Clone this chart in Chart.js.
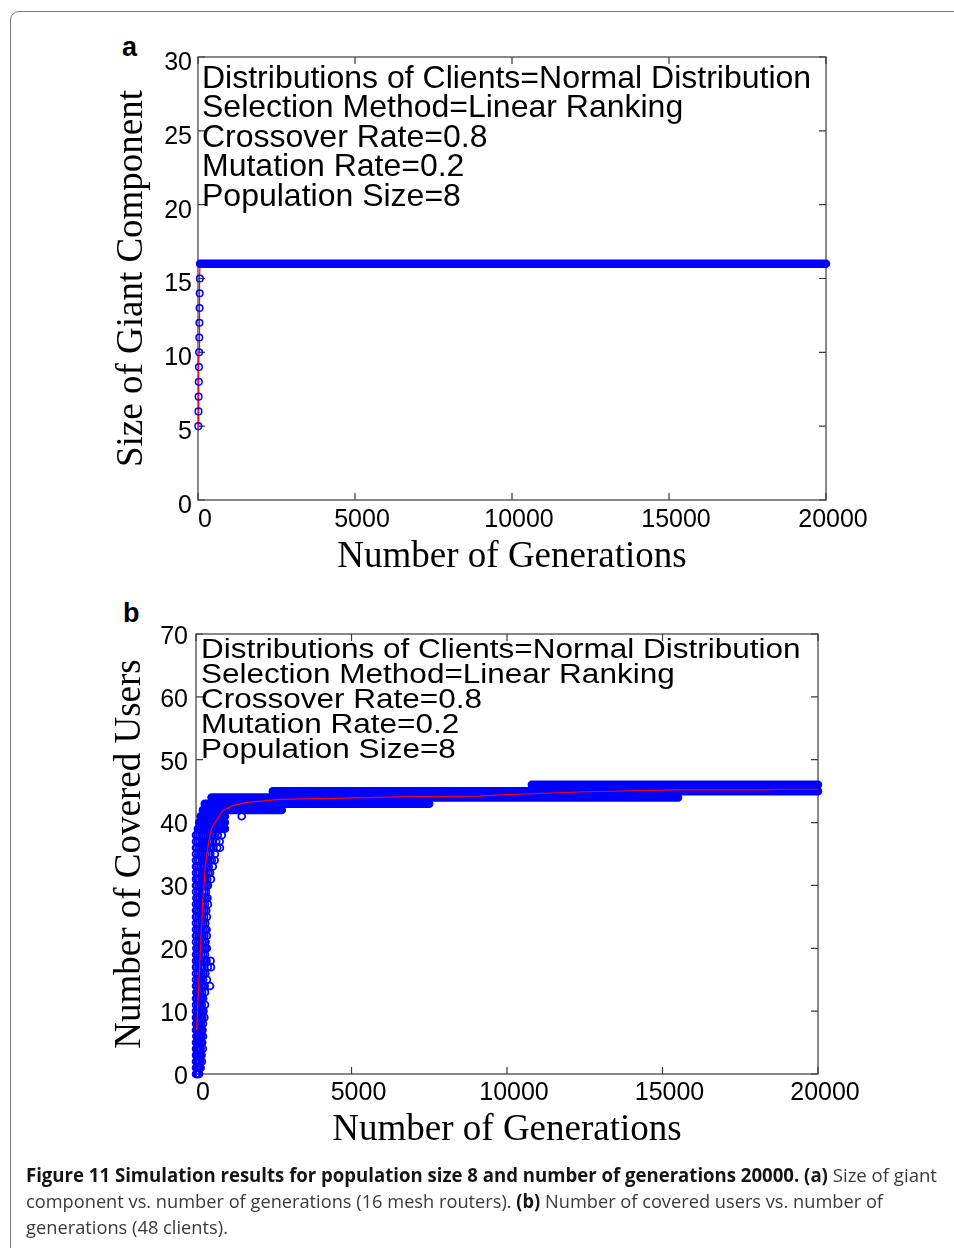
<!DOCTYPE html>
<html>
<head>
<meta charset="utf-8">
<script src="https://cdn.jsdelivr.net/npm/chart.js@4/dist/chart.umd.min.js"></script>
<style>
  html, body { margin: 0; padding: 0; background: #fff; }
  body { width: 954px; height: 1248px; position: relative; overflow: hidden; }
  #frame { position: absolute; left: 10px; top: 11px; width: 990px; height: 1300px;
           border: 1.5px solid #7d7d7d; border-radius: 9px; box-sizing: border-box; }
  canvas { position: absolute; left: 0; }
  #cA { top: 0; }
  #cB { top: 590px; }
  .panel { position: absolute; font: bold 27px "Liberation Sans", Arial, sans-serif;
           line-height: 26px; color: #000; }
  #caption { position: absolute; left: 26px; top: 1162px; font: 19px "Open Sans", sans-serif;
             color: #3a3a3a; line-height: 26px; }
  #caption div { white-space: nowrap; transform-origin: 0 0; width: max-content; }
  #caption b { color: #141414; }
</style>
</head>
<body>
<div id="frame"></div>
<div class="panel" style="left:122px; top:34px;">a</div>
<div class="panel" style="left:123px; top:600px;">b</div>
<canvas id="cA" width="954" height="600"></canvas>
<canvas id="cB" width="954" height="580"></canvas>
<div id="caption">
  <div data-w="911"><b>Figure 11 Simulation results for population size 8 and number of generations 20000. (a)</b> Size of giant</div>
  <div data-w="857">component vs. number of generations (16 mesh routers). <b>(b)</b> Number of covered users vs. number of</div>
  <div data-w="202">generations (48 clients).</div>
</div>
<script>
// ---------- panel (a): size of giant component ----------
const genA   = [10, 15, 20, 25, 30, 35, 40, 45, 50, 55, 60];
const giantA = [5, 6, 7, 8, 9, 10, 11, 12, 13, 14, 15];
// [value, first generation, last generation] of the constant run
const plateauA = [[16, 65, 20000]];
const meanGenA = [10, 15, 20, 25, 30, 35, 40, 45, 50, 55, 60, 65, 20000];
const meanA    = [5, 6, 7, 8, 9, 10, 11, 12, 13, 14, 15, 16, 16];
const yTicksA  = [0, 5, 10, 15, 20, 25, 30];
const xTicks   = [0, 5000, 10000, 15000, 20000];
const settings = [
  'Distributions of Clients=Normal Distribution',
  'Selection Method=Linear Ranking',
  'Crossover Rate=0.8',
  'Mutation Rate=0.2',
  'Population Size=8'
];

// ---------- panel (b): number of covered users ----------
// individual population members in the early generations: [generation, users]
const cloudB = [
  [0,0],[20,0],[40,0],[70,0],[100,0],
  [0,1],[10,1],[45,1],[80,1],[120,1],[150,1],
  [0,2],[30,2],[60,2],[95,2],[130,2],[190,2],
  [0,3],[20,3],[60,3],[100,3],[140,3],[180,3],
  [0,4],[35,4],[70,4],[110,4],[150,4],[220,4],
  [0,5],[30,5],[70,5],[110,5],[160,5],[200,5],
  [10,6],[50,6],[90,6],[130,6],[170,6],[225,6],
  [0,7],[40,7],[85,7],[130,7],[170,7],[210,7],
  [0,8],[40,8],[80,8],[120,8],[160,8],[225,8],
  [0,9],[20,9],[70,9],[120,9],[160,9],[200,9],[270,9],
  [0,10],[50,10],[100,10],[150,10],[200,10],[240,10],
  [0,11],[50,11],[100,11],[140,11],[190,11],[290,11],
  [0,12],[30,12],[80,12],[130,12],[180,12],[230,12],
  [10,13],[50,13],[90,13],[140,13],[200,13],[290,13],
  [0,14],[40,14],[100,14],[160,14],[220,14],[280,14],[450,14],
  [0,15],[60,15],[110,15],[170,15],[230,15],[350,15],
  [0,16],[60,16],[120,16],[180,16],[240,16],[300,16],
  [0,17],[20,17],[80,17],[140,17],[200,17],[260,17],[380,17],[480,17],
  [0,18],[50,18],[100,18],[160,18],[220,18],[280,18],[340,18],[470,18],
  [0,19],[50,19],[110,19],[170,19],[230,19],[290,19],
  [10,20],[70,20],[130,20],[190,20],[250,20],[310,20],[350,20],
  [0,21],[70,21],[130,21],[190,21],[250,21],[310,21],
  [0,22],[30,22],[90,22],[150,22],[210,22],[270,22],[350,22],
  [0,23],[50,23],[110,23],[170,23],[230,23],[290,23],[340,23],
  [0,24],[60,24],[120,24],[180,24],[240,24],[300,24],
  [0,25],[20,25],[80,25],[140,25],[200,25],[260,25],[350,25],
  [0,26],[40,26],[90,26],[150,26],[210,26],[270,26],[330,26],
  [0,27],[50,27],[110,27],[170,27],[230,27],[290,27],[385,27],
  [10,28],[70,28],[130,28],[190,28],[250,28],[310,28],[370,28],
  [0,29],[70,29],[130,29],[200,29],[260,29],[320,29],
  [0,30],[30,30],[90,30],[150,30],[220,30],[280,30],[340,30],[385,30],
  [0,31],[50,31],[110,31],[180,31],[240,31],[300,31],[360,31],[480,31],
  [0,32],[60,32],[120,32],[190,32],[260,32],[320,32],[390,32],[450,32],
  [0,33],[20,33],[80,33],[150,33],[220,33],[280,33],[350,33],[410,33],[540,33],
  [0,34],[60,34],[120,34],[190,34],[250,34],[320,34],[380,34],[450,34],[510,34],[600,34],
  [0,35],[70,35],[140,35],[200,35],[270,35],[330,35],[400,35],[460,35],[610,35],
  [0,36],[30,36],[100,36],[160,36],[230,36],[290,36],[360,36],[420,36],[490,36],[550,36],[680,36],[770,36],
  [0,37],[60,37],[130,37],[200,37],[260,37],[330,37],[390,37],[460,37],[520,37],[650,37],[760,37],
  [0,38],[50,38],[120,38],[180,38],[250,38],[310,38],[380,38],[440,38],[510,38],[570,38],[700,38],[830,38],
  [1470,41]
];
// runs of generations in which some member holds the value: [value, first, last]
const bandsB = [
  [46, 10800, 20000],
  [45, 2470, 20000],
  [44, 500, 15500],
  [43, 280, 7500],
  [42, 220, 2760],
  [41, 150, 930],
  [40, 100, 930],
  [39, 60, 930]
];
const meanGenB = [20, 60, 130, 215, 290, 400, 500, 665, 880, 1200, 1630, 2700, 4840, 6440, 9120, 9760, 12540, 15430, 18320, 18840, 20000];
const meanB    = [7, 11.3, 18.6, 27.2, 32.5, 36.7, 39.1, 40.4, 42, 42.7, 43.2, 43.7, 43.9, 44.1, 44.2, 44.4, 44.9, 45.2, 45.2, 45.3, 45.3];
const yTicksB  = [0, 10, 20, 30, 40, 50, 60, 70];

const BLUE = '#0000ff';
const RED  = '#ff0000';
const SANS = '"Liberation Sans", Arial, Helvetica, sans-serif';
const SERIF = '"Liberation Serif", "Times New Roman", serif';

// box around the axes with inward tick marks on all four sides
const boxTicks = {
  id: 'boxTicks',
  beforeDatasetsDraw(chart) {
    const { ctx, chartArea: a, scales: { x, y } } = chart;
    const L = 7;
    ctx.save();
    ctx.strokeStyle = '#3a3a3a';
    ctx.lineWidth = 1.2;
    ctx.strokeRect(a.left, a.top, a.right - a.left, a.bottom - a.top);
    ctx.beginPath();
    x.ticks.forEach(t => {
      const px = x.getPixelForValue(t.value);
      ctx.moveTo(px, a.bottom); ctx.lineTo(px, a.bottom - L);
      ctx.moveTo(px, a.top);    ctx.lineTo(px, a.top + L);
    });
    y.ticks.forEach(t => {
      const py = y.getPixelForValue(t.value);
      ctx.moveTo(a.left, py);  ctx.lineTo(a.left + L, py);
      ctx.moveTo(a.right, py); ctx.lineTo(a.right - L, py);
    });
    ctx.stroke();
    ctx.restore();
  }
};

// parameter block printed inside the axes
function settingsText(cfg) {
  return {
    id: 'settingsText',
    afterDatasetsDraw(chart) {
      const { ctx, chartArea: a } = chart;
      ctx.save();
      ctx.fillStyle = '#000';
      ctx.font = cfg.size + 'px ' + SANS;
      ctx.textBaseline = 'alphabetic';
      ctx.textAlign = 'left';
      settings.forEach((s, i) => {
        ctx.save();
        ctx.translate(a.left + cfg.dx, a.top + cfg.dy + i * cfg.step);
        ctx.scale(1, cfg.sy);
        ctx.fillText(s, 0, 0);
        ctx.restore();
      });
      ctx.restore();
    }
  };
}

function pts(xs, ys) { return xs.map((v, i) => ({ x: v, y: ys[i] })); }

function bandDataset(run, width) {
  return {
    data: [{ x: run[1], y: run[0] }, { x: run[2], y: run[0] }],
    showLine: true, borderColor: BLUE, borderWidth: width, borderCapStyle: 'round',
    pointRadius: 0, clip: false, order: 2
  };
}

function axes(cfg) {
  return {
    x: {
      type: 'linear', min: 0, max: 20000,
      afterBuildTicks: s => { s.ticks = xTicks.map(v => ({ value: v })); },
      afterFit: s => { s.height = 80; },
      grid: { display: false, drawTicks: false },
      border: { display: false },
      ticks: { color: '#000', font: { size: 25, family: SANS }, padding: cfg.xPad,
               labelOffset: 7, maxRotation: 0, autoSkip: false, callback: v => String(v) },
      title: { display: true, text: 'Number of Generations', color: '#000',
               font: { size: 37, family: SERIF, lineHeight: 1.2 },
               padding: { top: 0, bottom: cfg.xTitlePad } }
    },
    y: {
      type: 'linear', min: 0, max: cfg.yMax,
      afterBuildTicks: s => { s.ticks = cfg.yTicks.map(v => ({ value: v })); },
      afterFit: s => { s.width = 88; },
      grid: { display: false, drawTicks: false },
      border: { display: false },
      ticks: { color: '#000', font: { size: 25, family: SANS }, padding: cfg.yPad,
               labelOffset: cfg.yLabelOffset, autoSkip: false, callback: v => String(v) },
      title: { display: true, text: cfg.yTitle, color: '#000',
               font: { size: 37, family: SERIF, lineHeight: 1.2 },
               padding: { top: 0, bottom: 0 } }
    }
  };
}

const common = {
  responsive: false, animation: false, devicePixelRatio: 1, events: [],
  plugins: { legend: { display: false }, tooltip: { enabled: false } }
};

// ----- chart (a) -----
new Chart(document.getElementById('cA'), {
  type: 'scatter',
  data: {
    datasets: [
      { data: pts(genA, giantA), showLine: false, pointStyle: 'circle', pointRadius: 3.3,
        pointBorderWidth: 1.5, pointBorderColor: BLUE, pointBackgroundColor: 'rgba(0,0,0,0)',
        clip: false, order: 1 },
      ...plateauA.map(r => bandDataset(r, 8.5)),
      { data: pts(meanGenA, meanA), showLine: true, borderColor: RED, borderWidth: 1.2,
        pointRadius: 0, clip: false, order: 3 }
    ]
  },
  options: Object.assign({}, common, {
    layout: { padding: { left: 110, right: 128, top: 57, bottom: 20 } },
    scales: axes({ yMax: 30, yTicks: yTicksA, yTitle: 'Size of Giant Component',
                   xPad: 5, xTitlePad: 1, yPad: 6, yLabelOffset: 6 })
  }),
  plugins: [boxTicks, settingsText({ size: 32, dx: 4, dy: 30.5, step: 29.5, sy: 1 })]
});

// ----- chart (b) -----
new Chart(document.getElementById('cB'), {
  type: 'scatter',
  data: {
    datasets: [
      { data: pts(meanGenB, meanB), showLine: true, borderColor: RED, borderWidth: 1.2,
        pointRadius: 0, clip: false, order: 0 },
      { data: cloudB.map(p => ({ x: p[0], y: p[1] })), showLine: false, pointStyle: 'circle',
        pointRadius: 3.4, pointBorderWidth: 1.8, pointBorderColor: BLUE,
        pointBackgroundColor: 'rgba(0,0,0,0)', clip: false, order: 1 },
      ...bandsB.map(r => bandDataset(r, 8.5))
    ]
  },
  options: Object.assign({}, common, {
    layout: { padding: { left: 108, right: 136, top: 44, bottom: 16 } },
    scales: axes({ yMax: 70, yTicks: yTicksB, yTitle: 'Number of Covered Users',
                   xPad: 4, xTitlePad: 2, yPad: 8, yLabelOffset: 3 })
  }),
  plugins: [boxTicks, settingsText({ size: 31.5, dx: 5, dy: 23.7, step: 25, sy: 0.86 })]
});

// caption lines are set to their printed widths
function fitCaption() {
  document.querySelectorAll('#caption div').forEach(d => {
    d.style.transform = 'none';
    const w = d.getBoundingClientRect().width;
    const target = +d.dataset.w;
    d.style.transform = 'scaleX(' + (target / w) + ')';
  });
}
fitCaption();
if (document.fonts && document.fonts.ready) document.fonts.ready.then(fitCaption);
</script>
</body>
</html>
